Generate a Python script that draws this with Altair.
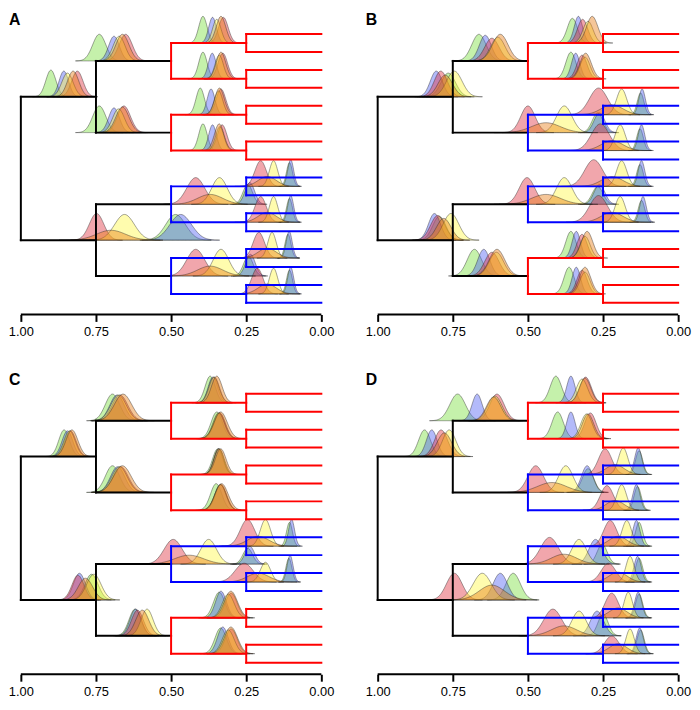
import numpy as np
import pandas as pd
import altair as alt

# ---------------- data ----------------
PANELS = ["A", "B", "C", "D"]
NODE_AGES = [1.0, 0.75, 0.5, 0.25, 0.0]
# y (tip units) of the 14 non-root internal nodes:
# 0-1: age 0.75 nodes, 2-5: age 0.5 nodes, 6-13: age 0.25 nodes
NODE_Y = [3.5, 11.5, 1.5, 5.5, 9.5, 13.5, 0.5, 2.5, 4.5, 6.5, 8.5, 10.5, 12.5, 14.5]
# branch colour of each of the four age-0.5 clades
CLADES = {
    "A": ["red", "red", "blue", "blue"],
    "B": ["red", "blue", "blue", "red"],
    "C": ["red", "red", "blue", "red"],
    "D": ["red", "blue", "blue", "blue"],
}
TICKS = [0.0, 0.25, 0.5, 0.75, 1.0]
METHODS = ["g", "b", "r", "y", "o"]

# densities: (node, method, centre, sd, peak height in px)
DENS_A = [
    (0, "g", .900, .017, 27), (0, "b", .857, .016, 26), (0, "r", .812, .019, 26), (0, "y", .845, .019, 24), (0, "o", .826, .019, 26),
    (2, "g", .739, .022, 27), (2, "b", .690, .018, 25), (2, "r", .651, .022, 27), (2, "y", .673, .020, 25), (2, "o", .662, .022, 27),
    (3, "g", .739, .022, 27), (3, "b", .690, .018, 25), (3, "r", .657, .022, 27), (3, "y", .675, .020, 24), (3, "o", .662, .022, 26),
    (6, "g", .394, .014, 27), (6, "b", .362, .013, 26), (6, "r", .326, .016, 26), (6, "y", .348, .014, 24), (6, "o", .334, .016, 27),
    (7, "g", .394, .014, 27), (7, "b", .363, .013, 26), (7, "r", .328, .016, 26), (7, "y", .340, .014, 24), (7, "o", .334, .016, 27),
    (8, "g", .403, .014, 27), (8, "b", .367, .013, 26), (8, "r", .334, .016, 26), (8, "y", .342, .014, 24), (8, "o", .339, .016, 27),
    (9, "g", .394, .014, 27), (9, "b", .362, .013, 26), (9, "r", .330, .016, 26), (9, "y", .338, .014, 24), (9, "o", .340, .016, 27),
    (1, "g", .485, .033, 26), (1, "b", .468, .036, 26), (1, "r", .748, .024, 27), (1, "y", .655, .033, 26), (1, "o", .700, .048, 10),
    (4, "g", .245, .016, 20), (4, "b", .238, .016, 22), (4, "r", .418, .030, 27), (4, "y", .339, .026, 27), (4, "o", .370, .042, 10),
    (5, "g", .243, .016, 20), (5, "b", .236, .016, 22), (5, "r", .418, .030, 27), (5, "y", .334, .026, 27), (5, "o", .370, .042, 10),
    (10, "g", .106, .010, 24), (10, "b", .102, .010, 27), (10, "r", .202, .019, 26), (10, "y", .159, .014, 26), (10, "o", .180, .030, 10),
    (11, "g", .106, .010, 24), (11, "b", .102, .010, 27), (11, "r", .202, .019, 26), (11, "y", .159, .014, 26), (11, "o", .180, .030, 10),
    (12, "g", .111, .010, 24), (12, "b", .107, .010, 27), (12, "r", .208, .019, 26), (12, "y", .164, .014, 26), (12, "o", .180, .030, 10),
    (13, "g", .106, .010, 24), (13, "b", .102, .010, 27), (13, "r", .213, .019, 26), (13, "y", .159, .014, 26), (13, "o", .180, .030, 10),
]
DENS_B = [
    (0, "g", .765, .024, 24), (0, "b", .805, .020, 26), (0, "r", .790, .022, 26), (0, "y", .745, .026, 26), (0, "o", .775, .024, 22),
    (2, "g", .663, .024, 27), (2, "b", .642, .020, 26), (2, "r", .620, .024, 23), (2, "y", .600, .024, 24), (2, "o", .592, .026, 27),
    (3, "g", .268, .018, 20), (3, "b", .262, .018, 20), (3, "r", .500, .024, 27), (3, "y", .379, .026, 27), (3, "o", .440, .048, 10),
    (4, "g", .268, .018, 18), (4, "b", .262, .018, 20), (4, "r", .503, .026, 27), (4, "y", .379, .026, 27), (4, "o", .440, .048, 10),
    (5, "g", .678, .024, 27), (5, "b", .647, .020, 27), (5, "r", .620, .024, 24), (5, "y", .605, .024, 24), (5, "o", .603, .026, 27),
    (6, "g", .352, .017, 25), (6, "b", .332, .014, 27), (6, "r", .318, .017, 24), (6, "y", .300, .017, 22), (6, "o", .286, .019, 27),
    (7, "g", .357, .017, 27), (7, "b", .341, .014, 26), (7, "r", .320, .017, 24), (7, "y", .310, .017, 22), (7, "o", .308, .019, 26),
    (8, "g", .125, .011, 22), (8, "b", .120, .011, 26), (8, "r", .265, .030, 27), (8, "y", .188, .017, 26), (8, "o", .220, .036, 10),
    (9, "g", .127, .011, 22), (9, "b", .122, .011, 26), (9, "r", .259, .030, 27), (9, "y", .193, .017, 26), (9, "o", .220, .036, 10),
    (1, "g", .795, .022, 24), (1, "b", .811, .020, 27), (1, "r", .800, .024, 25), (1, "y", .756, .026, 27), (1, "o", .780, .024, 22),
    (10, "g", .127, .011, 22), (10, "b", .122, .011, 26), (10, "r", .281, .030, 27), (10, "y", .188, .017, 26), (10, "o", .220, .036, 10),
    (11, "g", .122, .011, 22), (11, "b", .117, .011, 26), (11, "r", .265, .030, 27), (11, "y", .193, .017, 26), (11, "o", .220, .036, 10),
    (12, "g", .357, .017, 27), (12, "b", .339, .014, 27), (12, "r", .320, .017, 24), (12, "y", .310, .017, 22), (12, "o", .303, .019, 27),
    (13, "g", .363, .017, 27), (13, "b", .339, .014, 27), (13, "r", .320, .017, 24), (13, "y", .310, .017, 22), (13, "o", .310, .019, 27),
]
DENS_C = [
    (0, "g", .856, .018, 27), (0, "b", .845, .018, 26), (0, "r", .835, .019, 26), (0, "y", .838, .019, 26), (0, "o", .830, .020, 27),
    (2, "g", .695, .024, 27), (2, "b", .680, .024, 26), (2, "r", .670, .026, 26), (2, "y", .675, .026, 26), (2, "o", .660, .029, 27),
    (3, "g", .695, .024, 27), (3, "b", .678, .024, 26), (3, "r", .668, .026, 26), (3, "y", .672, .026, 26), (3, "o", .662, .029, 27),
    (6, "g", .370, .017, 27), (6, "b", .361, .016, 26), (6, "r", .356, .017, 26), (6, "y", .358, .017, 26), (6, "o", .348, .018, 27),
    (7, "g", .348, .019, 27), (7, "b", .340, .019, 26), (7, "r", .338, .019, 26), (7, "y", .342, .019, 26), (7, "o", .335, .022, 27),
    (8, "g", .345, .017, 26), (8, "b", .341, .016, 26), (8, "r", .342, .016, 26), (8, "y", .340, .017, 26), (8, "o", .335, .018, 26),
    (9, "g", .350, .019, 27), (9, "b", .336, .019, 26), (9, "r", .334, .019, 26), (9, "y", .336, .019, 26), (9, "o", .332, .022, 27),
    (1, "g", .765, .022, 26), (1, "b", .805, .020, 27), (1, "r", .810, .020, 25), (1, "y", .757, .024, 26), (1, "o", .785, .024, 22),
    (4, "g", .245, .016, 16), (4, "b", .238, .016, 18), (4, "r", .493, .030, 25), (4, "y", .375, .026, 25), (4, "o", .440, .048, 9),
    (5, "g", .620, .020, 27), (5, "b", .618, .019, 27), (5, "r", .612, .020, 26), (5, "y", .580, .020, 27), (5, "o", .596, .022, 26),
    (10, "g", .106, .010, 24), (10, "b", .099, .010, 27), (10, "r", .246, .024, 27), (10, "y", .186, .017, 27), (10, "o", .210, .036, 10),
    (11, "g", .108, .010, 24), (11, "b", .104, .010, 27), (11, "r", .257, .030, 19), (11, "y", .186, .017, 20), (11, "o", .210, .036, 9),
    (12, "g", .340, .019, 26), (12, "b", .334, .018, 27), (12, "r", .300, .020, 25), (12, "y", .310, .020, 24), (12, "o", .301, .022, 27),
    (13, "g", .335, .019, 26), (13, "b", .328, .018, 27), (13, "r", .300, .020, 25), (13, "y", .310, .020, 24), (13, "o", .301, .022, 27),
]
DENS_D = [
    (0, "g", .844, .020, 27), (0, "b", .820, .018, 27), (0, "r", .789, .022, 27), (0, "y", .762, .022, 27), (0, "o", .778, .024, 24),
    (2, "g", .734, .026, 27), (2, "b", .669, .017, 27), (2, "r", .603, .024, 27), (2, "y", .610, .024, 25), (2, "o", .614, .024, 24),
    (3, "g", .300, .019, 24), (3, "b", .303, .019, 27), (3, "r", .474, .026, 27), (3, "y", .374, .024, 27), (3, "o", .420, .048, 10),
    (6, "g", .407, .019, 27), (6, "b", .357, .014, 27), (6, "r", .308, .019, 26), (6, "y", .320, .019, 24), (6, "o", .310, .019, 25),
    (7, "g", .401, .019, 27), (7, "b", .357, .014, 27), (7, "r", .292, .019, 26), (7, "y", .305, .019, 25), (7, "o", .300, .019, 25),
    (8, "g", .130, .012, 24), (8, "b", .133, .012, 27), (8, "r", .243, .022, 26), (8, "y", .183, .016, 27), (8, "o", .210, .030, 10),
    (9, "g", .135, .012, 24), (9, "b", .139, .012, 26), (9, "r", .237, .022, 25), (9, "y", .188, .016, 26), (9, "o", .210, .030, 10),
    (1, "g", .549, .024, 27), (1, "b", .592, .024, 27), (1, "r", .745, .026, 27), (1, "y", .652, .030, 27), (1, "o", .620, .042, 15),
    (4, "g", .253, .017, 20), (4, "b", .275, .022, 25), (4, "r", .428, .030, 27), (4, "y", .330, .024, 25), (4, "o", .380, .042, 10),
    (5, "g", .250, .017, 22), (5, "b", .270, .022, 25), (5, "r", .417, .030, 27), (5, "y", .330, .024, 25), (5, "o", .380, .042, 10),
    (10, "g", .130, .012, 24), (10, "b", .139, .012, 26), (10, "r", .226, .022, 26), (10, "y", .171, .016, 26), (10, "o", .200, .030, 10),
    (11, "g", .130, .012, 24), (11, "b", .135, .012, 26), (11, "r", .232, .024, 19), (11, "y", .160, .014, 26), (11, "o", .200, .030, 10),
    (12, "g", .130, .012, 24), (12, "b", .133, .012, 26), (12, "r", .221, .022, 25), (12, "y", .166, .014, 26), (12, "o", .200, .030, 10),
    (13, "g", .125, .012, 24), (13, "b", .128, .012, 26), (13, "r", .221, .024, 18), (13, "y", .160, .014, 25), (13, "o", .200, .030, 10),
]
DENS = {"A": DENS_A, "B": DENS_B, "C": DENS_C, "D": DENS_D}

# ---------------- style ----------------
FILL = {"g": "#75de37", "b": "#4a5af2", "r": "#de2a39", "y": "#fff73e", "o": "#e8780c"}
LINE = {"black": "#000000", "red": "#ff0000", "blue": "#0000ff"}
PX_PER_TIP = 18.13
W, H = 331, 306
PX_PER_UNIT = 304.0
XMAX = 1.0 + 13 / PX_PER_UNIT
XMIN = XMAX - W / PX_PER_UNIT
YBOT = 15.648
YTOP = YBOT - H / PX_PER_TIP
FONT = "Liberation Sans"


def tree_segments(clades):
    r, a75, a50, a25, tip = NODE_AGES
    segs = [(r, r, 3.5, 11.5, "black")]
    for n in range(2):
        yn = 8 * n + 3.5
        segs.append((r, a75, yn, yn, "black"))
        segs.append((a75, a75, yn - 2, yn + 2, "black"))
        for mm in range(2):
            m = 2 * n + mm
            ym = 4 * m + 1.5
            c = clades[m]
            segs.append((a75, a50, ym, ym, "black"))
            segs.append((a50, a50, ym - 1, ym + 1, c))
            for kk in range(2):
                k = 2 * m + kk
                yk = 2 * k + 0.5
                segs.append((a50, a25, yk, yk, c))
                segs.append((a25, a25, yk - 0.5, yk + 0.5, c))
                for t in range(2):
                    i = 2 * k + t
                    segs.append((a25, tip, i, i, c))
    df = pd.DataFrame(segs, columns=["x", "x2", "y", "y2", "col"])
    df["col"] = df["col"].map(LINE)
    return df


def density_frame(rows):
    out = []
    for node, meth, c, sd, hpx in rows:
        xs = np.linspace(c - 3.6 * sd, c + 3.6 * sd, 61)
        base = NODE_Y[node]
        top = base - (hpx / PX_PER_TIP) * np.exp(-0.5 * ((xs - c) / sd) ** 2)
        out.append(pd.DataFrame({"x": xs, "top": top, "base": base, "key": f"{node}-{meth}", "m": meth}))
    return pd.concat(out, ignore_index=True)


xscale = alt.Scale(domain=[XMIN, XMAX], reverse=True, nice=False, zero=False)
yscale = alt.Scale(domain=[YTOP, YBOT], reverse=True, nice=False, zero=False)
xaxis = alt.Axis(values=TICKS, format=".2f", domain=False, grid=False, ticks=True,
                 tickSize=7, tickWidth=2, tickColor="black", labelFontSize=13,
                 labelColor="black", labelFont=FONT, labelPadding=4, title=None,
                 labelOverlap=False)


def panel(letter):
    dens = density_frame(DENS[letter])
    layers = []
    for meth in METHODS:
        sub = dens[dens["m"] == meth]
        layers.append(
            alt.Chart(sub).mark_area(fill=FILL[meth], fillOpacity=0.42, stroke="#222222",
                                     strokeWidth=0.55, strokeOpacity=0.75)
            .encode(x=alt.X("x:Q", scale=xscale, axis=xaxis),
                    y=alt.Y("top:Q", scale=yscale, axis=None, stack=None),
                    y2="base:Q", detail="key:N")
        )
    segs = tree_segments(CLADES[letter])
    layers.append(
        alt.Chart(segs).mark_rule(strokeWidth=2, strokeCap="square")
        .encode(x=alt.X("x:Q", scale=xscale, axis=xaxis), x2="x2:Q",
                y=alt.Y("y:Q", scale=yscale, axis=None), y2="y2:Q",
                color=alt.Color("col:N", scale=None))
    )
    axis_df = pd.DataFrame({"a": [max(TICKS)], "b": [min(TICKS)]})
    layers.append(
        alt.Chart(axis_df).mark_rule(color="black", strokeWidth=2)
        .encode(x=alt.X("a:Q", scale=xscale, axis=xaxis), x2="b:Q", y=alt.value(H))
    )
    layers.append(
        alt.Chart(pd.DataFrame({"t": [letter]})).mark_text(
            fontSize=16, fontWeight="bold", font=FONT, align="left", baseline="alphabetic", color="black")
        .encode(text="t:N", x=alt.value(1), y=alt.value(13))
    )
    return alt.layer(*layers).properties(width=W, height=H)


top = alt.hconcat(panel("A"), panel("B"), spacing=30)
bottom = alt.hconcat(panel("C"), panel("D"), spacing=30)
chart = alt.vconcat(top, bottom, spacing=34).properties(padding=0).configure_view(stroke=None)

chart.save("out.html", embed_options={"renderer": "svg", "actions": False})
